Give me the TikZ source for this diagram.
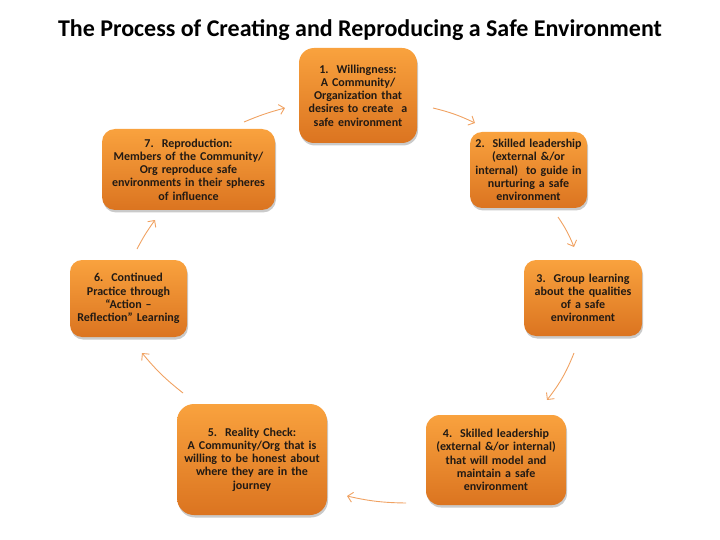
\documentclass[tikz,border=0pt]{standalone}
\usepackage{fontspec}
\setmainfont{Carlito}
\usetikzlibrary{arrows.meta,shadows}
\definecolor{boxtop}{HTML}{F9A23E}
\definecolor{boxbot}{HTML}{DB7420}
\definecolor{boxtext}{HTML}{221A14}
\definecolor{arrowc}{HTML}{F0A262}
\tikzset{
  stepbox/.style={draw=none, rounded corners=#1, top color=boxtop, bottom color=boxbot,
    drop shadow={shadow xshift=1pt, shadow yshift=-2.5pt, opacity=0.35, fill=black!60},
    align=center, inner sep=0pt, text=boxtext,
    font=\fontsize{12}{13.2}\selectfont\bfseries},
  conn/.style={draw=arrowc, line width=0.9pt, -{Straight Barb[length=5pt,width=10pt,line width=0.9pt]}},
}
\begin{document}
\begin{tikzpicture}[x=1pt,y=-1pt]
\useasboundingbox (0,0) rectangle (720,540);
\node[font=\fontsize{24}{28}\selectfont\bfseries] (title) at (360,30) {The Process of Creating and Reproducing a Safe Environment};

\node[stepbox=15pt, minimum width=118pt, minimum height=95pt, text width=112pt] (b1) at (358,95.5)
  {1.~~Willingness:\\ A Community/\\ Organization that\\ desires to create~~a\\ safe environment};
\node[stepbox=12pt, minimum width=117pt, minimum height=76pt, text width=112pt] (b2) at (528.5,170)
  {2.~~Skilled leadership\\ (external \&/or\\ internal)~~to guide in\\ nurturing a safe\\ environment};
\node[stepbox=12pt, minimum width=118pt, minimum height=76pt, text width=112pt] (b3) at (583,298)
  {3.~~Group learning\\ about the qualities\\ of a safe\\ environment};
\node[stepbox=14pt, minimum width=140pt, minimum height=90pt, text width=134pt] (b4) at (496,460)
  {4.~~Skilled leadership\\ (external \&/or internal)\\ that will model and\\ maintain a safe\\ environment};
\node[stepbox=17pt, minimum width=150pt, minimum height=111pt, text width=144pt] (b5) at (252,459.5)
  {5.~~Reality Check:\\ A Community/Org that is\\ willing to be honest about\\ where they are in the\\ journey};
\node[stepbox=12pt, minimum width=117pt, minimum height=77pt, text width=112pt] (b6) at (128.5,298.5)
  {6.~~Continued\\ Practice through\\ “Action –\\ Reflection” Learning};
\node[stepbox=13pt, minimum width=173pt, minimum height=81pt, text width=168pt] (b7) at (188.5,169.5)
  {7.~~Reproduction:\\ Members of the Community/\\ Org reproduce safe\\ environments in their spheres\\ of influence};

\coordinate (a1s) at (433,108); \coordinate (a1e) at (475,123);
\coordinate (a2s) at (558,217); \coordinate (a2e) at (574,247);
\coordinate (a3s) at (574,353); \coordinate (a3e) at (547,400);
\coordinate (a4s) at (406,503); \coordinate (a4e) at (347,496);
\coordinate (a5s) at (183,393); \coordinate (a5e) at (142,353);
\coordinate (a6s) at (137,249); \coordinate (a6e) at (155,220);
\coordinate (a7s) at (244,122); \coordinate (a7e) at (285,108);

\draw[conn] (a1s) to[bend left=6] (a1e);
\draw[conn] (a2s) to[bend left=6] (a2e);
\draw[conn] (a3s) to[bend left=8] (a3e);
\draw[conn] (a4s) to[bend left=6] (a4e);
\draw[conn] (a5s) to[bend left=6] (a5e);
\draw[conn] (a6s) to[bend left=4] (a6e);
\draw[conn] (a7s) to[bend left=4] (a7e);
\end{tikzpicture}
\end{document}
